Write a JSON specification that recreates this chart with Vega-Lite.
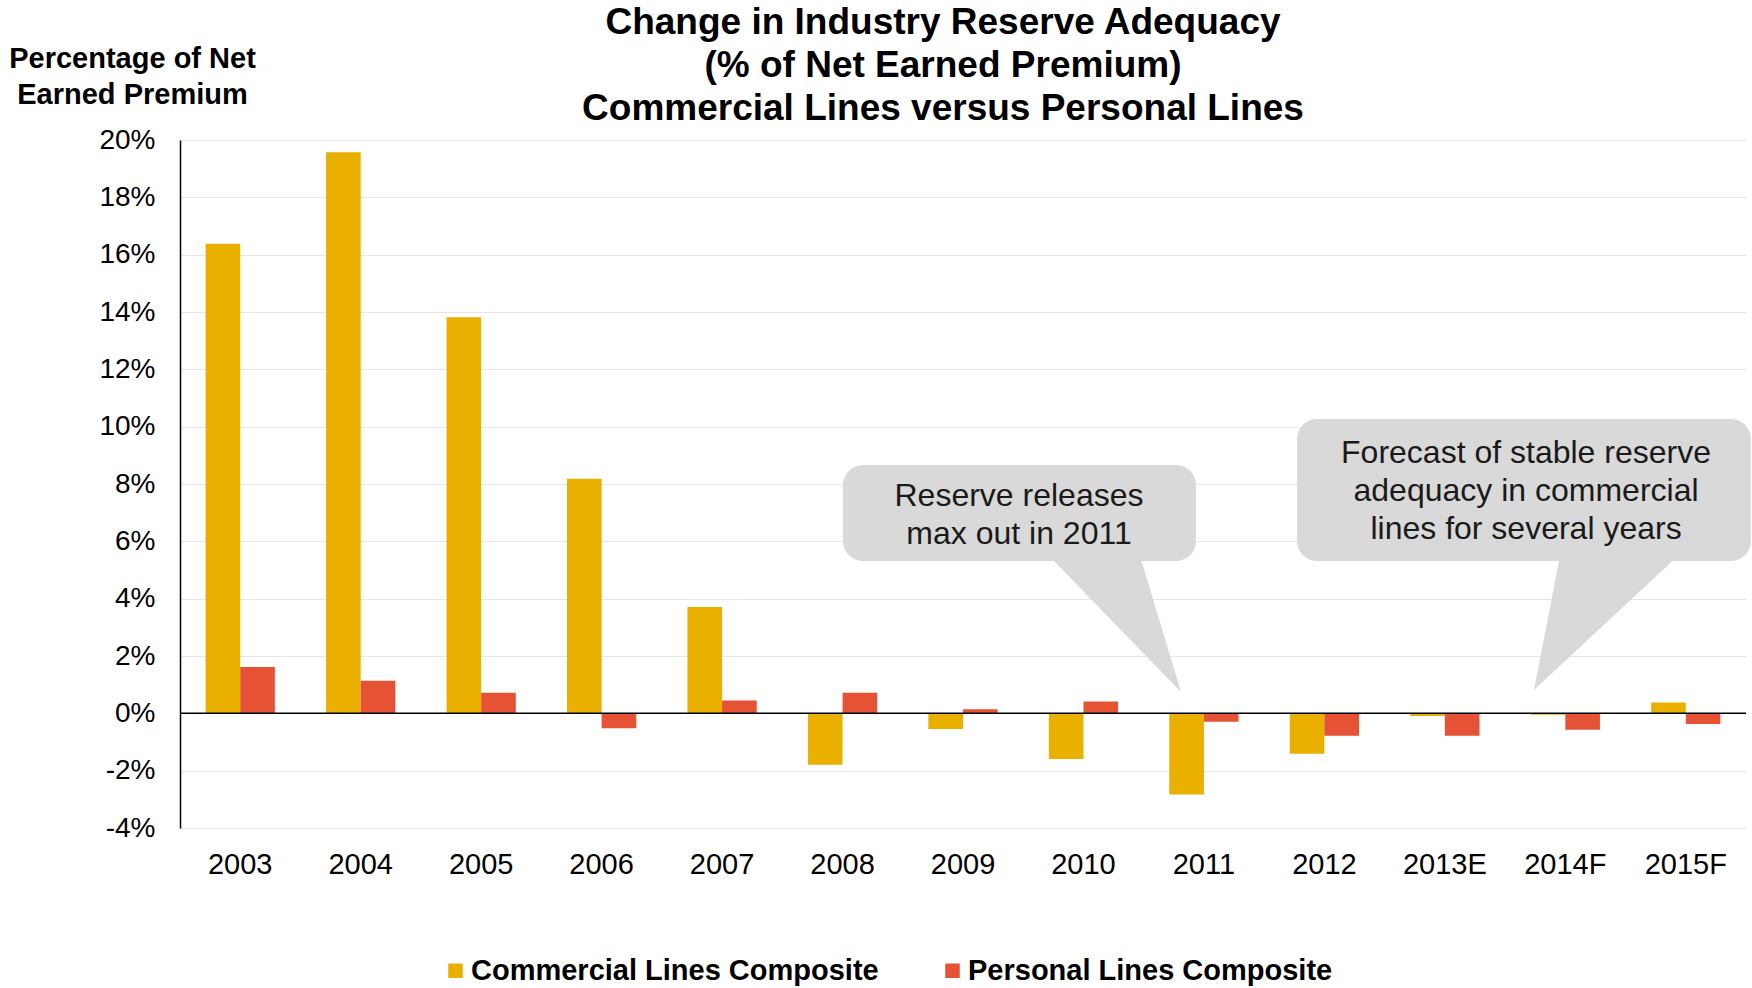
{
  "$schema": "https://vega.github.io/schema/vega-lite/v6.json",
  "autosize": {"type": "none"},
  "width": 1566,
  "height": 688,
  "padding": {"left": 180, "top": 140, "right": 6, "bottom": 160},
  "background": "white",
  "config": {
    "font": "Liberation Sans",
    "view": {"stroke": null}
  },
  "title": {
    "text": ["Change in Industry Reserve Adequacy", "(% of Net Earned Premium)", "Commercial Lines versus Personal Lines"],
    "font": "Liberation Sans",
    "fontSize": 37,
    "fontWeight": "bold",
    "color": "#000000",
    "lineHeight": 43,
    "anchor": "middle",
    "frame": "group",
    "dx": -20,
    "dy": 106,
    "offset": 22
  },
  "datasets": {
    "bars": [
      {"year": "2003", "series": "Commercial Lines Composite", "value": 16.38},
      {"year": "2003", "series": "Personal Lines Composite", "value": 1.62},
      {"year": "2004", "series": "Commercial Lines Composite", "value": 19.57},
      {"year": "2004", "series": "Personal Lines Composite", "value": 1.14},
      {"year": "2005", "series": "Commercial Lines Composite", "value": 13.82},
      {"year": "2005", "series": "Personal Lines Composite", "value": 0.72},
      {"year": "2006", "series": "Commercial Lines Composite", "value": 8.18},
      {"year": "2006", "series": "Personal Lines Composite", "value": -0.52},
      {"year": "2007", "series": "Commercial Lines Composite", "value": 3.71},
      {"year": "2007", "series": "Personal Lines Composite", "value": 0.45},
      {"year": "2008", "series": "Commercial Lines Composite", "value": -1.79},
      {"year": "2008", "series": "Personal Lines Composite", "value": 0.72},
      {"year": "2009", "series": "Commercial Lines Composite", "value": -0.55},
      {"year": "2009", "series": "Personal Lines Composite", "value": 0.14},
      {"year": "2010", "series": "Commercial Lines Composite", "value": -1.59},
      {"year": "2010", "series": "Personal Lines Composite", "value": 0.41},
      {"year": "2011", "series": "Commercial Lines Composite", "value": -2.83},
      {"year": "2011", "series": "Personal Lines Composite", "value": -0.29},
      {"year": "2012", "series": "Commercial Lines Composite", "value": -1.41},
      {"year": "2012", "series": "Personal Lines Composite", "value": -0.78},
      {"year": "2013E", "series": "Commercial Lines Composite", "value": -0.09},
      {"year": "2013E", "series": "Personal Lines Composite", "value": -0.78},
      {"year": "2014F", "series": "Commercial Lines Composite", "value": -0.05},
      {"year": "2014F", "series": "Personal Lines Composite", "value": -0.57},
      {"year": "2015F", "series": "Commercial Lines Composite", "value": 0.38},
      {"year": "2015F", "series": "Personal Lines Composite", "value": -0.37}
    ],
    "bubbles": [
      {"id": "a", "bx1": 5.504, "bx2": 8.434, "by1": 8.66, "by2": 5.31},
      {"id": "b", "bx1": 9.273, "bx2": 13.04, "by1": 10.27, "by2": 5.31}
    ],
    "pointers": [
      {"id": "a", "px": 7.214, "ptop": 5.5, "pbot": 5.5},
      {"id": "a", "px": 7.969, "ptop": 5.5, "pbot": 2.221},
      {"id": "a", "px": 8.31, "ptop": 0.74, "pbot": 0.74},
      {"id": "b", "px": 11.24, "ptop": 0.81, "pbot": 0.81},
      {"id": "b", "px": 11.456, "ptop": 5.5, "pbot": 1.657},
      {"id": "b", "px": 12.436, "ptop": 5.5, "pbot": 5.5}
    ],
    "notes": [
      {"tx": 6.965, "ty": 7.58, "label": "Reserve releases\nmax out in 2011"},
      {"tx": 11.174, "ty": 9.08, "label": "Forecast of stable reserve\nadequacy in commercial\nlines for several years"}
    ]
  },
  "layer": [
    {
      "data": {"name": "bars"},
      "mark": {"type": "bar"},
      "encoding": {
        "x": {
          "field": "year", "type": "nominal",
          "sort": ["2003","2004","2005","2006","2007","2008","2009","2010","2011","2012","2013E","2014F","2015F"],
          "scale": {"paddingInner": 0.425, "paddingOuter": 0.2125},
          "axis": {
            "title": null, "orient": "bottom", "domain": false, "ticks": false, "grid": false,
            "labelAngle": 0, "labelFontSize": 29, "labelColor": "#000000", "labelPadding": 22,
            "labelFont": "Liberation Sans"
          }
        },
        "xOffset": {
          "field": "series", "type": "nominal",
          "sort": ["Commercial Lines Composite", "Personal Lines Composite"],
          "scale": {"paddingInner": 0, "paddingOuter": 0}
        },
        "y": {
          "field": "value", "type": "quantitative",
          "scale": {"domain": [-4, 20], "nice": false, "zero": false},
          "axis": {
            "title": ["Percentage of Net", "Earned Premium"],
            "titleAngle": 0, "titleAlign": "center", "titleBaseline": "alphabetic",
            "titleX": -48, "titleY": -73, "titleFontSize": 29, "titleFontWeight": "bold",
            "titleLineHeight": 36, "titleColor": "#000000", "titleFont": "Liberation Sans",
            "values": [-4, -2, 0, 2, 4, 6, 8, 10, 12, 14, 16, 18, 20],
            "labelExpr": "datum.value + '%'",
            "labelFontSize": 28, "labelColor": "#000000", "labelPadding": 25,
            "labelFont": "Liberation Sans",
            "ticks": false, "domain": true, "domainColor": "#000000", "domainWidth": 1.5,
            "grid": true, "gridColor": "#e6e6e6", "gridWidth": 1
          }
        },
        "color": {
          "field": "series", "type": "nominal",
          "sort": ["Commercial Lines Composite", "Personal Lines Composite"],
          "scale": {"domain": ["Commercial Lines Composite", "Personal Lines Composite"], "range": ["#EAB000", "#E55234"]},
          "legend": {
            "title": null, "orient": "none", "direction": "horizontal",
            "legendX": 261, "legendY": 816,
            "symbolType": "square", "symbolSize": 210, "symbolStrokeWidth": 0,
            "labelFontSize": 29, "labelFontWeight": "bold", "labelColor": "#000000",
            "labelFont": "Liberation Sans", "labelOffset": 1, "labelLimit": 600, "columnPadding": 59
          }
        }
      }
    },
    {
      "data": {"values": [{"z": 0}]},
      "mark": {"type": "rule", "color": "#000000", "strokeWidth": 1.5},
      "encoding": {"y": {"field": "z", "type": "quantitative"}}
    },
    {
      "data": {"name": "bubbles"},
      "mark": {"type": "rect", "fill": "#d9d9d9", "cornerRadius": 20},
      "encoding": {
        "x": {"field": "bx1", "type": "quantitative", "scale": {"domain": [0, 13], "nice": false, "zero": false}, "axis": null},
        "x2": {"field": "bx2"},
        "y": {"field": "by1", "type": "quantitative"},
        "y2": {"field": "by2"}
      }
    },
    {
      "data": {"name": "pointers"},
      "mark": {"type": "area", "fill": "#d9d9d9", "orient": "vertical"},
      "encoding": {
        "x": {"field": "px", "type": "quantitative", "scale": {"domain": [0, 13], "nice": false, "zero": false}, "axis": null},
        "y": {"field": "ptop", "type": "quantitative"},
        "y2": {"field": "pbot"},
        "detail": {"field": "id", "type": "nominal"}
      }
    },
    {
      "data": {"name": "notes"},
      "mark": {"type": "text", "fontSize": 32, "color": "#1a1a1a", "font": "Liberation Sans", "lineBreak": "\n", "lineHeight": 38, "align": "center", "baseline": "middle"},
      "encoding": {
        "x": {"field": "tx", "type": "quantitative", "scale": {"domain": [0, 13], "nice": false, "zero": false}, "axis": null},
        "y": {"field": "ty", "type": "quantitative"},
        "text": {"field": "label"}
      }
    }
  ],
  "resolve": {"scale": {"x": "independent", "color": "independent"}}
}
